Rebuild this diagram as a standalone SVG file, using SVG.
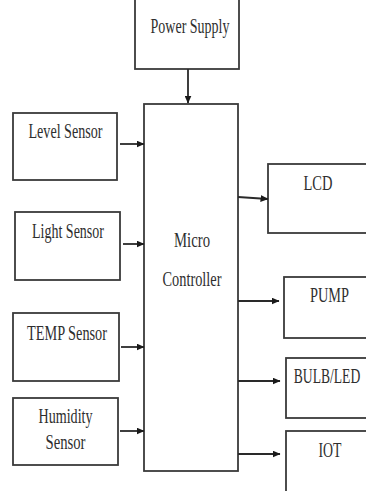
<svg xmlns="http://www.w3.org/2000/svg" width="366" height="491" viewBox="0 0 366 491">
<style>
.box{fill:#fff;stroke:#3a3a3a;stroke-width:1.8}
.t{font-family:"Liberation Serif","Times New Roman",serif;font-size:20px;fill:#2e2e2e;text-anchor:middle}
.c{stroke:#2a2a2a;stroke-width:1.8;fill:none;marker-end:url(#ah)}
</style>
<defs>
<marker id="ah" markerWidth="8" markerHeight="7" refX="7.5" refY="3.5" orient="auto" markerUnits="userSpaceOnUse">
<path d="M0,0 L8,3.5 L0,7 Z" fill="#1a1a1a"/>
</marker>
</defs>
<rect width="366" height="491" fill="#fff"/>
<g id="power"><rect class="box" x="135" y="-5" width="104" height="74"/><text class="t" x="190" y="33" textLength="79" lengthAdjust="spacingAndGlyphs">Power Supply</text></g>
<g id="mcu"><rect class="box" x="144" y="104" width="94" height="367"/><text class="t" x="192" y="247" textLength="36" lengthAdjust="spacingAndGlyphs">Micro</text><text class="t" x="192" y="286" textLength="59" lengthAdjust="spacingAndGlyphs">Controller</text></g>
<g id="level"><rect class="box" x="13" y="113" width="104" height="67"/><text class="t" x="65.5" y="138" textLength="74" lengthAdjust="spacingAndGlyphs">Level Sensor</text></g>
<g id="light"><rect class="box" x="15" y="212" width="105" height="68"/><text class="t" x="68" y="238" textLength="72" lengthAdjust="spacingAndGlyphs">Light Sensor</text></g>
<g id="temp"><rect class="box" x="13" y="313" width="106" height="68"/><text class="t" x="67" y="340" textLength="80" lengthAdjust="spacingAndGlyphs">TEMP Sensor</text></g>
<g id="humidity"><rect class="box" x="13" y="398" width="105" height="67"/><text class="t" x="65.5" y="423" textLength="54" lengthAdjust="spacingAndGlyphs">Humidity</text><text class="t" x="65.5" y="449" textLength="40" lengthAdjust="spacingAndGlyphs">Sensor</text></g>
<g id="lcd"><rect class="box" x="268" y="164" width="110" height="69"/><text class="t" x="318" y="190" textLength="29" lengthAdjust="spacingAndGlyphs">LCD</text></g>
<g id="pump"><rect class="box" x="284" y="277" width="94" height="61"/><text class="t" x="329.5" y="302" textLength="39" lengthAdjust="spacingAndGlyphs">PUMP</text></g>
<g id="bulb"><rect class="box" x="286" y="358" width="92" height="60"/><text class="t" transform="translate(327,383) scale(0.68,1)" x="0" y="0">BULB/LED</text></g>
<g id="iot"><rect class="box" x="286" y="431" width="92" height="70"/><text class="t" x="330" y="457" textLength="23" lengthAdjust="spacingAndGlyphs">IOT</text></g>
<g id="connectors">
<line class="c" x1="188" y1="69" x2="188" y2="103"/>
<line class="c" x1="120" y1="144" x2="144" y2="144"/>
<line class="c" x1="123" y1="244" x2="144" y2="244"/>
<line class="c" x1="121" y1="347" x2="144" y2="347"/>
<line class="c" x1="120" y1="431" x2="144" y2="431"/>
<line class="c" x1="238" y1="197" x2="268" y2="199"/>
<line class="c" x1="238" y1="301" x2="279" y2="301"/>
<line class="c" x1="238" y1="381" x2="280" y2="381"/>
<line class="c" x1="238" y1="454" x2="280" y2="454"/>
</g>
</svg>
